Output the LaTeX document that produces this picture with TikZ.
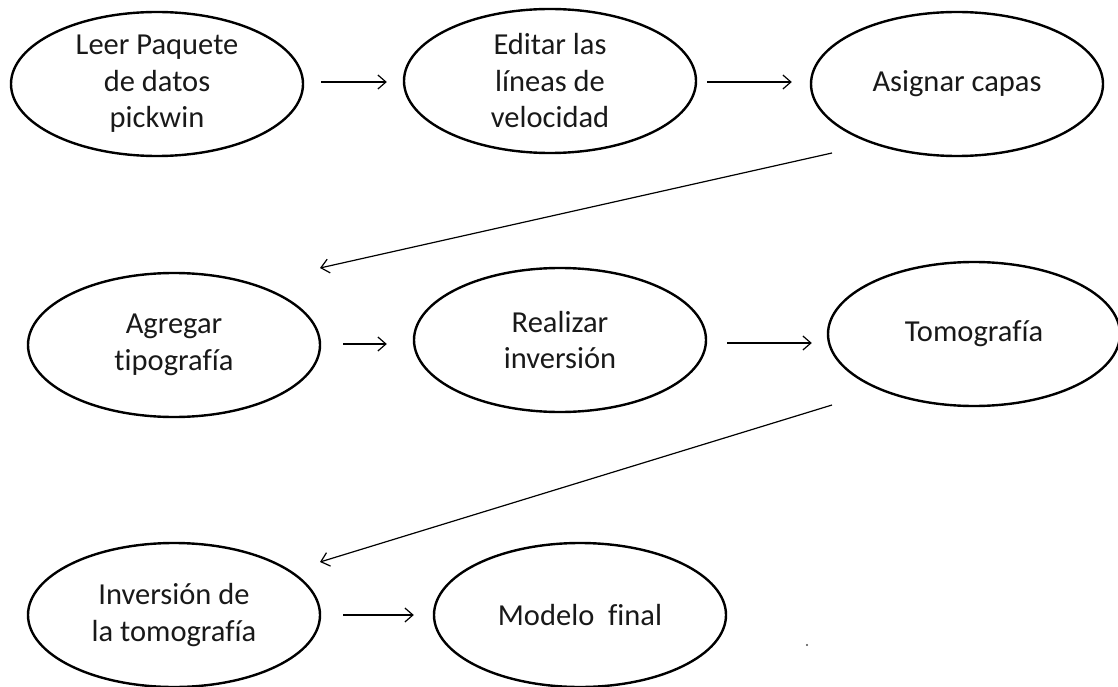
\documentclass[tikz,border=0pt]{standalone}
\usepackage{fontspec}
\setmainfont[Ligatures=NoCommon]{Carlito}
\usetikzlibrary{shapes.geometric,arrows.meta}
\begin{document}
\begin{tikzpicture}[x=1pt,y=-1pt,
  oval/.style={ellipse,draw=black,line width=2.4pt,minimum width=292pt,minimum height=144pt,inner sep=0pt,
    align=center,font=\fontsize{30.5}{36.5}\selectfont,text=black!90},
  lower/.style={execute at begin node={\vspace*{9pt}}},
  arr/.style={line width=1.2pt,-{Straight Barb[length=8pt,width=14pt,line width=1.2pt]}}]
\useasboundingbox (0,0) rectangle (1118,687);
\node[oval,lower] (n1) at (157,84) {Leer Paquete\\de datos\\pickwin};
\node[oval,lower] (n2) at (550,81) {Editar las\\líneas de\\velocidad};
\node[oval] (n3) at (957,84) {Asignar capas};
\node[oval,lower] (n4) at (174,345) {Agregar\\tipografía};
\node[oval] (n5) at (560,340) {Realizar\\inversión};
\node[oval] (n6) at (974,334) {Tomografía};
\node[oval,lower] (n7) at (174,615) {Inversión de\\la tomografía};
\node[oval] (n8) at (580,615) {Modelo\ \ final};
\draw[arr] ([xshift=17pt]n1.east |- 0,82) -- ([xshift=-16pt]n2.west |- 0,82);
\draw[arr] ([xshift=10pt]n2.east |- 0,82) -- ([xshift=-18pt]n3.west |- 0,82);
\draw[arr] ([shift={(-125,69)}]n3.center) -- ([shift={(146,-77)}]n4.center);
\draw[arr] ([xshift=22pt]n4.east |- 0,344) -- ([xshift=-26pt]n5.west |- 0,344);
\draw[arr] ([xshift=20pt]n5.east |- 0,343) -- ([xshift=-15pt]n6.west |- 0,343);
\draw[arr] ([shift={(-142,71)}]n6.center) -- ([shift={(146,-53)}]n7.center);
\draw[arr] ([xshift=22pt]n7.east |- 0,615) -- ([xshift=-19pt]n8.west |- 0,615);
\fill[black!70] (807,645) circle (1.1pt);
\end{tikzpicture}
\end{document}
